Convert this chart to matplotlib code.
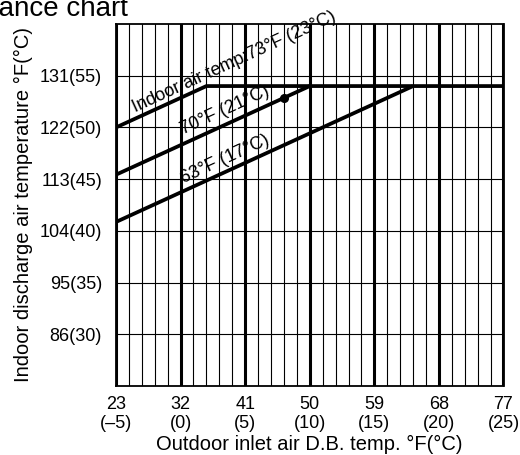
import numpy as np
import matplotlib
matplotlib.use("Agg")
import matplotlib.pyplot as plt

plt.rcParams['font.family'] = ['Liberation Sans', 'DejaVu Sans']

# ~~~~~~~~ data (degC) ~~~~~~~~
x_ticks_c = [-5, 0, 5, 10, 15, 20, 25]
x_ticks_f = [23, 32, 41, 50, 59, 68, 77]
y_ticks_c = [30, 35, 40, 45, 50, 55]
y_ticks_f = [86, 95, 104, 113, 122, 131]

# indoor air temp lines: outdoor temp vs discharge temp
line73_x = [-5, 2, 25]
line73_y = [50, 54, 54]
line70_x = [-5, 10]
line70_y = [45.43, 54]
line63_x = [-5, 18]
line63_y = [40.86, 54]
dot_x = [8]
dot_y = [52.86]

labels = ["Indoor air temp:73°F (23°C)", "70°F (21°C)", "63°F (17°C)"]
label_x = [4.13, 3.43, 3.43]
label_y = [56.3, 51.7, 46.95]
# ~~~~~~~~~~~~~~~~~~~~~~~~~~~~~

fig = plt.figure(figsize=(5.2, 4.55), dpi=100)
ax = fig.add_axes([116/520, 1-386/455, (503.5-116)/520, (386-24)/455])

ax.set_xlim(-5, 25)
ax.set_ylim(25, 60)

ax.set_xticks(x_ticks_c)
ax.set_xticks(np.arange(-5, 26, 1), minor=True)
ax.set_xticklabels(["%d\n(%s)" % (f, str(c).replace('-', '–')) for f, c in zip(x_ticks_f, x_ticks_c)],
                   linespacing=1.15)
ax.set_yticks(y_ticks_c)
ax.set_yticklabels(["%d(%d)" % (f, c) for f, c in zip(y_ticks_f, y_ticks_c)])

ax.tick_params(which='both', length=0, labelsize=13)
ax.tick_params(axis='x', pad=7)
ax.tick_params(axis='y', pad=10)

ax.grid(which='minor', axis='x', color='black', lw=0.8)
ax.grid(which='major', axis='x', color='black', lw=2.2)
ax.grid(which='major', axis='y', color='black', lw=0.8)
ax.set_axisbelow(True)

for s in ax.spines.values():
    s.set_linewidth(1.3)

for xs, ys in [(line73_x, line73_y), (line70_x, line70_y), (line63_x, line63_y)]:
    ax.plot(xs, ys, color='black', lw=2.7, solid_capstyle='butt', zorder=3)
ax.plot(dot_x, dot_y, 'o', color='black', ms=5.5, zorder=4)

for t, x, y in zip(labels, label_x, label_y):
    ax.text(x, y, t, fontsize=13, rotation=24.6, rotation_mode='anchor',
            ha='center', va='center', zorder=5)

ax.set_xlabel("Outdoor inlet air D.B. temp. °F(°C)", fontsize=14.5, labelpad=2)
ax.set_ylabel("Indoor discharge air temperature °F(°C)", fontsize=14.5, labelpad=5)

fig.text(128/520, 1-16/455, "Performance chart", fontsize=20, ha='right', va='baseline')

fig.savefig("out.png", dpi=100)
